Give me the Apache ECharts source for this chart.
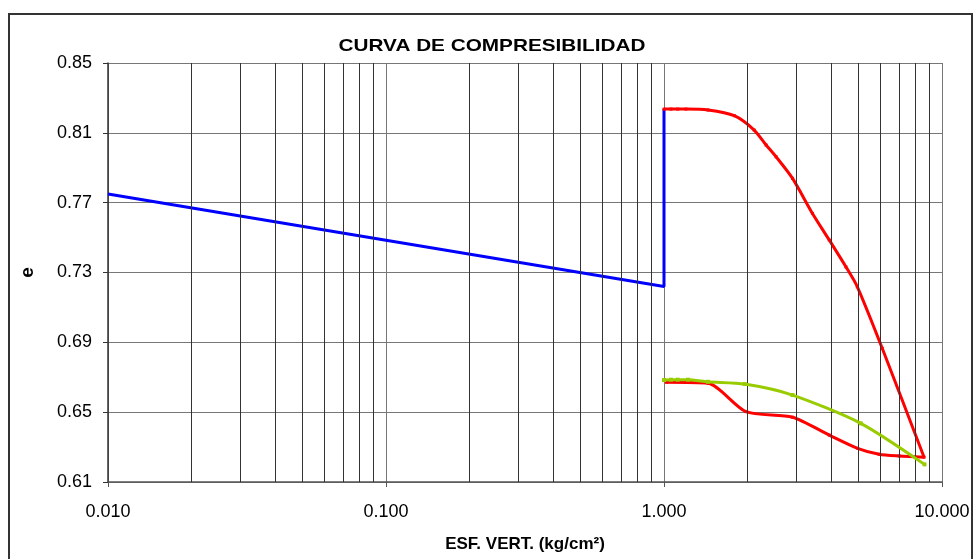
<!DOCTYPE html>
<html>
<head>
<meta charset="utf-8">
<script src="https://cdn.jsdelivr.net/npm/echarts@6/dist/echarts.min.js"></script>
<style>html,body{margin:0;padding:0;background:#fff}#c{width:976px;height:559px}</style>
</head>
<body>
<div id="c"></div>
<script>
// ---- data ----
const titleText = 'CURVA DE COMPRESIBILIDAD';
const xName = 'ESF. VERT. (kg/cm²)';
const yName = 'e';

const blueX = [0.01, 1.0, 1.0];
const blueY = [0.775, 0.722, 0.8236];

const redX = [1.00, 1.06, 1.12, 1.20, 1.44, 1.79, 2.11, 2.33, 2.53, 2.90, 3.42, 3.93, 4.51, 4.96, 6.10, 8.62,
              7.01, 5.94, 4.97, 3.93, 2.90, 1.97, 1.44, 1.02];
const redY = [0.8236, 0.8236, 0.8236, 0.8236, 0.8231, 0.8198, 0.8116, 0.8030, 0.7963, 0.7839, 0.7638, 0.7486, 0.7333, 0.7218, 0.6865, 0.6242,
              0.6249, 0.6259, 0.6293, 0.6369, 0.6471, 0.6503, 0.6665, 0.6671];

const greenX = [1.00, 1.06, 1.12, 1.22, 1.44, 1.95, 2.90, 5.10, 8.65];
const greenY = [0.6684, 0.6686, 0.6686, 0.6686, 0.6674, 0.6661, 0.6598, 0.6436, 0.6201];

const minorGrid = [0.02,0.03,0.04,0.05,0.06,0.07,0.08,0.09,
                   0.2,0.3,0.4,0.5,0.6,0.7,0.8,0.9,
                   2,3,4,5,6,7,8,9];

const xMin = 0.01, xMax = 10;
const yMin = 0.61, yMax = 0.85, yStep = 0.04;

// ---- chart ----
const zip = (a, b) => a.map((v, i) => [v, b[i]]);
const FONT = '"Liberation Sans", Arial, sans-serif';
const chart = echarts.init(document.getElementById('c'), null, {renderer: 'canvas'});

chart.setOption({
  animation: false,
  backgroundColor: '#fff',
  grid: {left: 108, right: 34, top: 63, bottom: 77},
  graphic: [
    {type: 'rect', shape: {x: 9, y: 14, width: 963, height: 560}, style: {fill: 'none', stroke: '#333', lineWidth: 2}, z: 0},
    {type: 'text', x: 492, y: 46, scaleX: 1.22, scaleY: 1,
     style: {text: titleText, fill: '#000', font: 'bold 17px ' + FONT, textAlign: 'center', textVerticalAlign: 'middle'}}
  ],
  xAxis: {
    type: 'log', logBase: 10, min: xMin, max: xMax,
    name: xName, nameLocation: 'middle', nameGap: 54,
    nameTextStyle: {fontFamily: FONT, fontWeight: 'bold', fontSize: 17, color: '#000'},
    axisLine: {lineStyle: {color: '#555', width: 1.5}},
    axisTick: {show: true, length: 5, lineStyle: {color: '#555'}},
    axisLabel: {fontFamily: FONT, fontSize: 18, color: '#000', margin: 21,
                formatter: v => Number(v).toFixed(3)},
    splitLine: {show: true, lineStyle: {color: '#777', width: 1}},
    minorTick: {show: false}
  },
  yAxis: {
    type: 'value', min: yMin, max: yMax, interval: yStep,
    name: yName, nameLocation: 'middle', nameGap: 71, nameRotate: 90,
    nameTextStyle: {fontFamily: FONT, fontWeight: 'bold', fontSize: 19, color: '#000'},
    axisLine: {show: true, lineStyle: {color: '#333', width: 1.5}},
    axisTick: {show: true, length: 5, lineStyle: {color: '#333'}},
    axisLabel: {fontFamily: FONT, fontSize: 18, color: '#000', margin: 16,
                formatter: v => Number(v).toFixed(2)},
    splitLine: {show: true, lineStyle: {color: '#777', width: 1}}
  },
  series: [
    {
      type: 'line', data: [], silent: true,
      markLine: {
        silent: true, symbol: 'none', animation: false,
        label: {show: false},
        lineStyle: {color: '#333', width: 1, type: 'solid'},
        data: minorGrid.map(v => ({xAxis: v}))
      }
    },
    {type: 'line', data: zip(blueX, blueY), showSymbol: false,
     lineStyle: {color: '#0000ff', width: 3}, itemStyle: {color: '#0000ff'}, z: 3},
    {type: 'line', data: zip(redX, redY), symbol: 'rect', symbolSize: 3, smooth: 0.25,
     lineStyle: {color: '#ff0000', width: 3}, itemStyle: {color: '#ff0000'}, z: 4},
    {type: 'line', data: zip(greenX, greenY), symbol: 'rect', symbolSize: 4, smooth: 0.25,
     lineStyle: {color: '#99cc00', width: 3}, itemStyle: {color: '#99cc00'}, z: 5}
  ]
});
</script>
</body>
</html>
